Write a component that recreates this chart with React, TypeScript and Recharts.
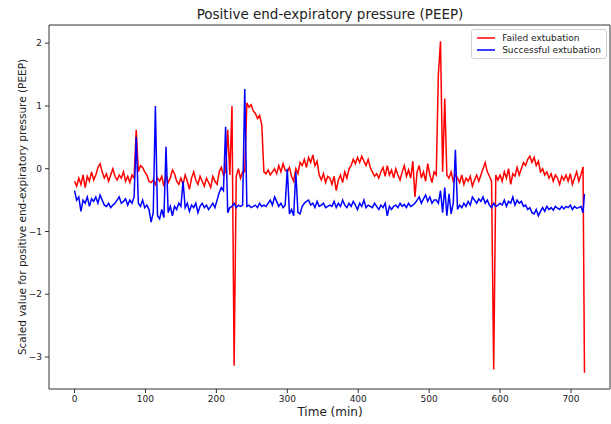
import { LineChart, Line, XAxis, YAxis, ReferenceArea } from "recharts";

// minutes since start, sampled every 3 min
const times = [
  0, 3, 6, 9, 12, 15, 18, 21, 24, 27,
  30, 33, 36, 39, 42, 45, 48, 51, 54, 57,
  60, 63, 66, 69, 72, 75, 78, 81, 84, 87,
  90, 93, 96, 99, 102, 105, 108, 111, 114, 117,
  120, 123, 126, 129, 132, 135, 138, 141, 144, 147,
  150, 153, 156, 159, 162, 165, 168, 171, 174, 177,
  180, 183, 186, 189, 192, 195, 198, 201, 204, 207,
  210, 213, 216, 219, 222, 225, 228, 231, 234, 237,
  240, 243, 246, 249, 252, 255, 258, 261, 264, 267,
  270, 273, 276, 279, 282, 285, 288, 291, 294, 297,
  300, 303, 306, 309, 312, 315, 318, 321, 324, 327,
  330, 333, 336, 339, 342, 345, 348, 351, 354, 357,
  360, 363, 366, 369, 372, 375, 378, 381, 384, 387,
  390, 393, 396, 399, 402, 405, 408, 411, 414, 417,
  420, 423, 426, 429, 432, 435, 438, 441, 444, 447,
  450, 453, 456, 459, 462, 465, 468, 471, 474, 477,
  480, 483, 486, 489, 492, 495, 498, 501, 504, 507,
  510, 513, 516, 519, 522, 525, 528, 531, 534, 537,
  540, 543, 546, 549, 552, 555, 558, 561, 564, 567,
  570, 573, 576, 579, 582, 585, 588, 591, 594, 597,
  600, 603, 606, 609, 612, 615, 618, 621, 624, 627,
  630, 633, 636, 639, 642, 645, 648, 651, 654, 657,
  660, 663, 666, 669, 672, 675, 678, 681, 684, 687,
  690, 693, 696, 699, 702, 705, 708, 711, 714, 717,
  719,
];

const failed = [
  -0.2, -0.28, -0.15, -0.25, -0.1, -0.3, -0.12, -0.2, -0.05, -0.18,
  -0.1, 0.02, 0.08, -0.05, -0.15, -0.08, -0.2, -0.1, 0.0, -0.12,
  -0.18, -0.1, -0.15, -0.05, -0.2, -0.12, -0.22, -0.1, -0.15, 0.62,
  -0.05, 0.05, 0.02, -0.05, -0.1, -0.2, -0.22, -0.18, -0.25, -0.15,
  -0.2, -0.12, -0.28, -0.1, -0.22, -0.15, -0.02, -0.08, -0.2, -0.25,
  -0.15, -0.25, -0.1, -0.2, -0.33, -0.15, -0.05, -0.18, -0.25, -0.12,
  -0.2, -0.28, -0.15, -0.22, -0.3, -0.12, -0.2, -0.25, -0.05, 0.02,
  -0.1, -0.05, 0.62, -0.1, 1.0, -3.14, -0.12, 0.0, -0.15, -0.05,
  -0.05, 1.05, 0.98, 1.02, 0.92, 0.88, 0.8, 0.85, 0.7, -0.05,
  -0.08, -0.02, -0.1, -0.05, 0.0, -0.08, 0.05, -0.05, 0.08, -0.02,
  -0.05, 0.02, -0.12, -0.2, 0.0, -0.08, 0.1, 0.05, 0.15, 0.02,
  0.18, 0.1, 0.22, 0.05, 0.12, -0.1, -0.18, -0.08, -0.22, -0.12,
  -0.15, -0.25, -0.12, -0.35, -0.18, -0.1, -0.22, -0.05, -0.15, 0.0,
  0.05, 0.15, 0.08, 0.18, 0.1, 0.2, 0.12, 0.05, 0.15, 0.02,
  -0.05, -0.12, -0.08, -0.15, -0.05, 0.02, -0.12, 0.05, -0.1, -0.02,
  -0.15, 0.0, -0.1, -0.18, -0.05, 0.05, -0.12, -0.02, -0.15, 0.12,
  -0.45, -0.05, 0.05, -0.15, -0.05, -0.2, 0.08, -0.1, -0.22, -0.05,
  -0.1, 1.5, 2.03, -0.05, 1.12, -0.1, -0.15, -0.05, -0.2, -0.1,
  -0.15, -0.22, -0.1, -0.25, -0.15, -0.2, -0.12, -0.28, -0.18, -0.1,
  -0.2, -0.1, 0.0, 0.1, -0.05, -0.12, -0.2, -3.2, -0.1, -0.18,
  -0.1, -0.2, -0.05, -0.15, 0.0, -0.25, -0.08, -0.12, 0.02, -0.1,
  0.0, 0.1, 0.05, 0.15, 0.2, 0.1, 0.18, 0.05, 0.12, -0.05,
  0.0, -0.1, -0.05, -0.15, -0.08, -0.2, -0.1, -0.15, -0.25, -0.12,
  -0.18, -0.1, -0.2, -0.08, -0.25, -0.15, -0.05, -0.2, -0.1, 0.03,
  -3.25,
];

const successful = [
  -0.35, -0.5, -0.45, -0.68, -0.5, -0.55, -0.45, -0.6, -0.48, -0.52,
  -0.45, -0.55, -0.42, -0.5, -0.58, -0.6, -0.55, -0.62, -0.58, -0.55,
  -0.5, -0.45, -0.55, -0.52, -0.48, -0.58, -0.5, -0.55, -0.45, 0.5,
  -0.55, -0.6, -0.5, -0.62, -0.58, -0.65, -0.85, -0.7, 1.0, -0.75,
  -0.8, -0.65, -0.78, 0.35, -0.7, -0.6, -0.75, -0.6, -0.65, -0.55,
  -0.6, -0.2, -0.62, -0.55, -0.68, -0.58, -0.62, -0.55, -0.7, -0.6,
  -0.55, -0.62, -0.58, -0.65, -0.6, -0.55, -0.62, -0.5, -0.38, -0.3,
  -0.35, 0.67, -0.7, -0.62, -0.6, -0.55, -0.62, -0.58, -0.6, -0.58,
  1.27, -0.6, -0.58, -0.62, -0.6, -0.58, -0.62, -0.55, -0.6, -0.58,
  -0.6, -0.55, -0.5, -0.58, -0.45, -0.52, -0.6, -0.55, -0.62, -0.58,
  0.0, -0.72, -0.65, -0.75, -0.05, -0.7, -0.72, -0.6, -0.55, -0.52,
  -0.5, -0.58, -0.55, -0.62, -0.52, -0.6, -0.58, -0.55, -0.62, -0.6,
  -0.58, -0.6, -0.52, -0.62, -0.55, -0.6, -0.5, -0.58, -0.62, -0.55,
  -0.6, -0.52, -0.58, -0.65, -0.55, -0.6, -0.5, -0.62, -0.58, -0.6,
  -0.62, -0.55, -0.6, -0.65, -0.58, -0.62, -0.55, -0.75, -0.6, -0.65,
  -0.6, -0.58, -0.62, -0.55, -0.6, -0.57, -0.62, -0.55, -0.6, -0.58,
  -0.55, -0.5, -0.45, -0.55, -0.48, -0.42, -0.52, -0.45, -0.55, -0.5,
  -0.5, -0.55, -0.35, -0.7, -0.3, -0.75, -0.4, -0.72, -0.55, 0.3,
  -0.65, -0.58, -0.62, -0.55, -0.6, -0.52, -0.58, -0.45, -0.5, -0.55,
  -0.48, -0.52, -0.45, -0.55, -0.5, -0.58, -0.62, -0.55, -0.6, -0.58,
  -0.55, -0.58, -0.5, -0.6, -0.52, -0.55, -0.45, -0.58, -0.5, -0.55,
  -0.52, -0.6, -0.58, -0.65, -0.62, -0.7, -0.72, -0.65, -0.75, -0.68,
  -0.62, -0.68, -0.6, -0.65, -0.62, -0.66, -0.6, -0.63, -0.65, -0.6,
  -0.64, -0.6, -0.62, -0.58, -0.65, -0.6, -0.63, -0.62, -0.6, -0.7,
  -0.4,
];

const xTicks = [0, 100, 200, 300, 400, 500, 600, 700];
const yTicks = [-3, -2, -1, 0, 1, 2];

const legendItems = [
  { name: "Failed extubation", color: "#ff0000" },
  { name: "Successful extubation", color: "#0000ff" },
];

const data = times.map((t, i) => ({
  t,
  failed: failed[i],
  successful: successful[i],
}));

const font = "'DejaVu Sans', sans-serif";
const fmt = (v: number) => String(v).replace("-", "\u2212");

const LegendBox = () => (
  <div
    style={{
      position: "absolute",
      top: 29,
      right: 4,
      border: "1px solid #d0d0d0",
      borderRadius: 3,
      background: "rgba(255,255,255,0.8)",
      padding: "2px 5px 2px 3px",
      fontSize: 9,
      color: "#222",
      lineHeight: "12px",
      zIndex: 2,
    }}
  >
    {legendItems.map((e) => (
      <div key={e.name} style={{ display: "flex", alignItems: "center" }}>
        <svg width={22} height={12}>
          <line x1={2} y1={6} x2={20} y2={6} stroke={e.color} strokeWidth={1.5} />
        </svg>
        <span style={{ marginLeft: 5 }}>{e.name}</span>
      </div>
    ))}
  </div>
);

export default function App() {
  return (
    <div
      style={{
        position: "absolute",
        left: 0,
        top: 0,
        width: 611,
        height: 424,
        background: "#fff",
        fontFamily: font,
      }}
    >
      <div
        style={{
          position: "absolute",
          left: 330,
          top: 14,
          transform: "translate(-50%, -50%)",
          fontSize: 13.5,
          color: "#222",
          whiteSpace: "nowrap",
        }}
      >
        Positive end-expiratory pressure (PEEP)
      </div>
      <div
        style={{
          position: "absolute",
          left: 330,
          top: 412,
          transform: "translate(-50%, -50%)",
          fontSize: 12,
          color: "#222",
          whiteSpace: "nowrap",
        }}
      >
        Time (min)
      </div>
      <div
        style={{
          position: "absolute",
          left: 22,
          top: 207,
          transform: "translate(-50%, -50%) rotate(-90deg)",
          fontSize: 10.5,
          color: "#222",
          whiteSpace: "nowrap",
        }}
      >
        Scaled value for positive end-expiratory pressure (PEEP)
      </div>
      <LineChart
        width={611}
        height={424}
        data={data}
        margin={{ top: 25, right: 1, bottom: 0, left: 0 }}
      >
        <XAxis
          type="number"
          dataKey="t"
          domain={[-36, 755]}
          allowDataOverflow
          ticks={xTicks}
          height={35}
          tickSize={4}
          tickMargin={3}
          axisLine={false}
          tickLine={{ stroke: "#333" }}
          tick={{ fontSize: 9, fill: "#222", fontFamily: font }}
          tickFormatter={fmt}
        />
        <YAxis
          type="number"
          domain={[-3.51, 2.29]}
          allowDataOverflow
          ticks={yTicks}
          width={49}
          tickSize={4}
          tickMargin={3}
          axisLine={false}
          tickLine={{ stroke: "#333" }}
          tick={{ fontSize: 9, fill: "#222", fontFamily: font }}
          tickFormatter={fmt}
        />
        <ReferenceArea
          x1={-36}
          x2={755}
          y1={-3.51}
          y2={2.29}
          fill="none"
          stroke="#333"
          strokeWidth={1}
        />
        <Line
          type="linear"
          dataKey="failed"
          name="Failed extubation"
          stroke="#ff0000"
          strokeWidth={1.5}
          dot={false}
          isAnimationActive={false}
        />
        <Line
          type="linear"
          dataKey="successful"
          name="Successful extubation"
          stroke="#0000ff"
          strokeWidth={1.5}
          dot={false}
          isAnimationActive={false}
        />
      </LineChart>
      <LegendBox />
    </div>
  );
}
